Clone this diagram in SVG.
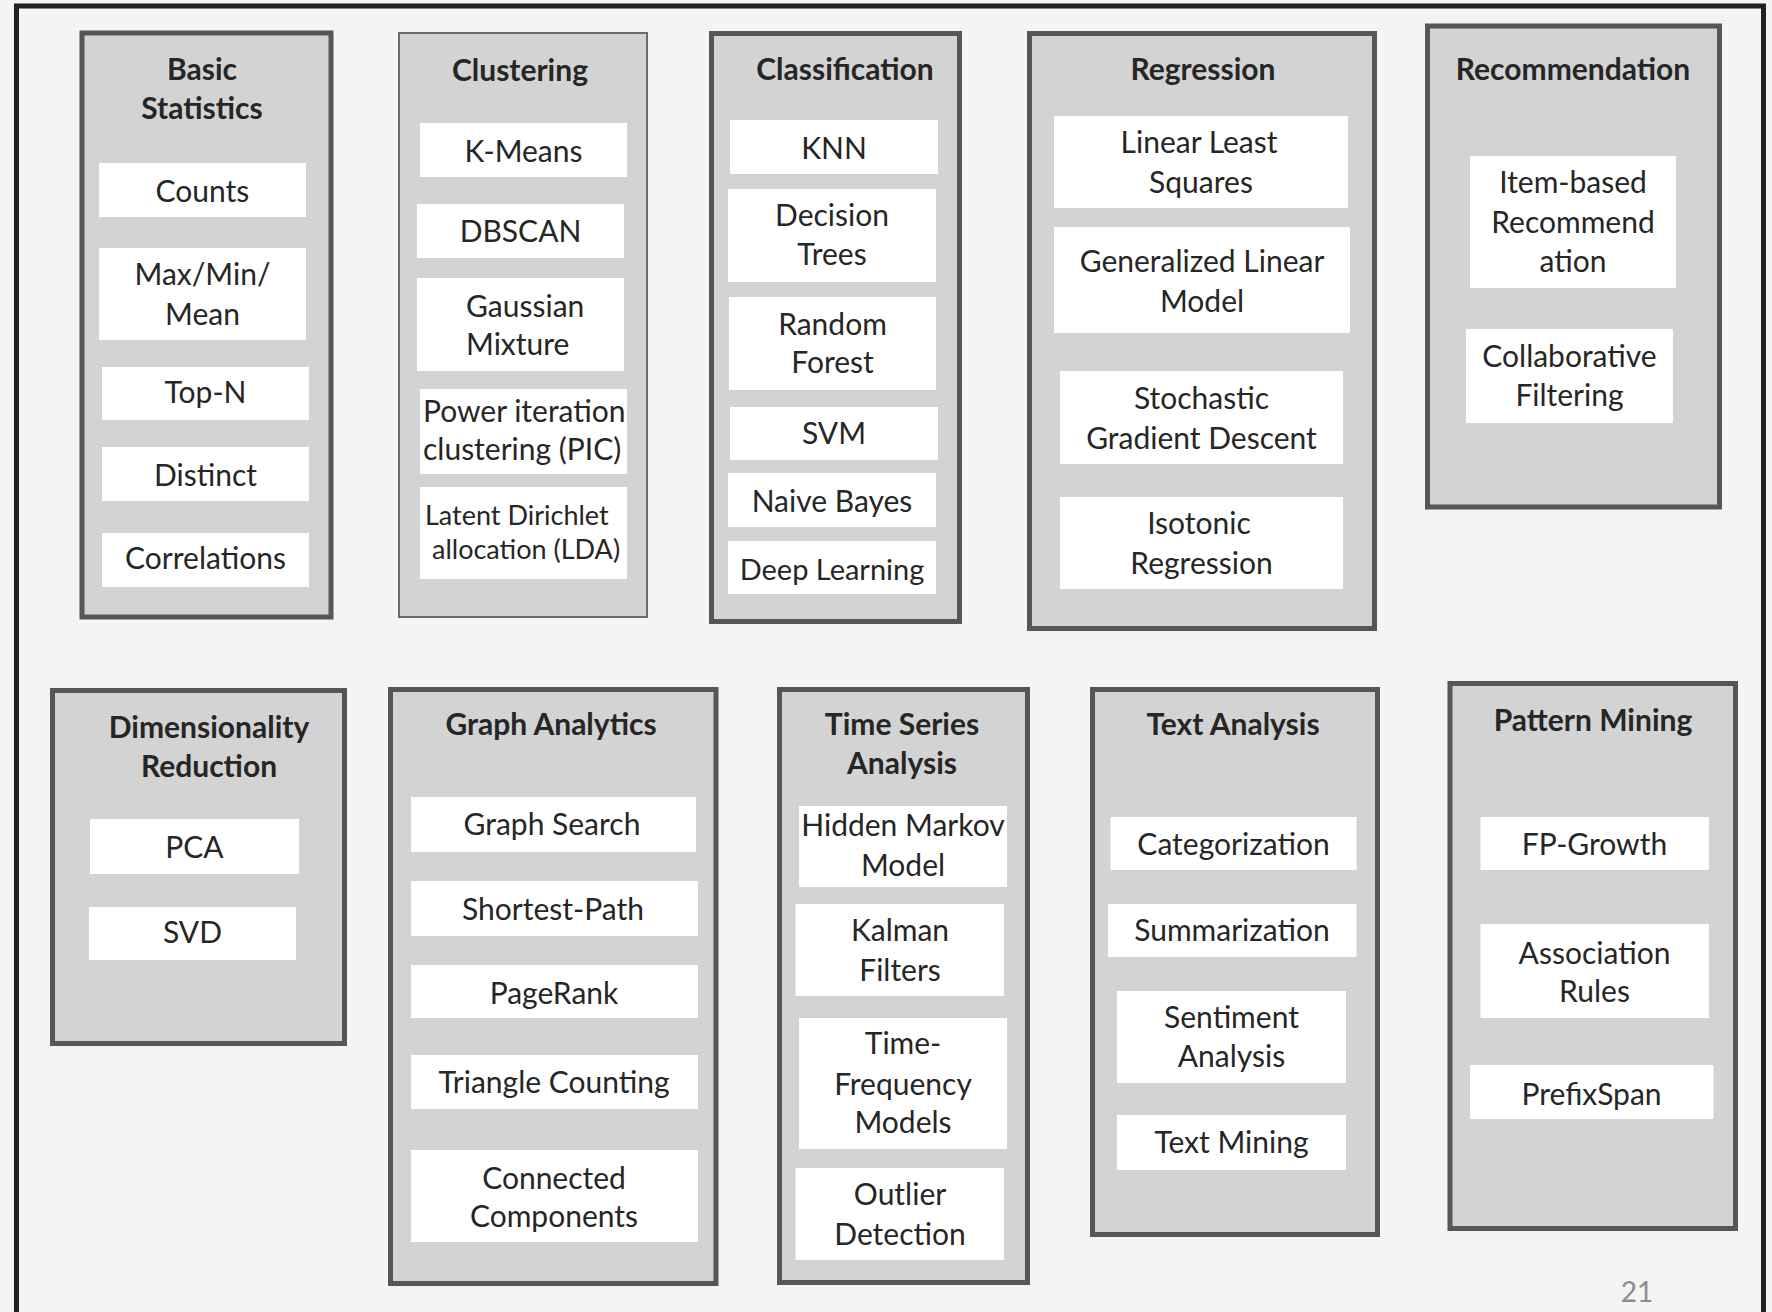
<svg xmlns="http://www.w3.org/2000/svg" width="1772" height="1312" viewBox="0 0 1772 1312">
<style>
.bg{fill:#f3f4f3}
.frame{fill:none;stroke:#222;stroke-width:5}
.box{fill:#d3d3d3;stroke:#565656;stroke-width:5}
.thin{stroke:#6a6a6a;stroke-width:2}
.item{fill:#fff}
text{font-family:Lato,"Liberation Sans",sans-serif;font-size:30px;fill:#262626;text-anchor:middle}
.h{font-weight:bold}
.s{text-anchor:start}
.num{fill:#8c8c8c;font-size:28px}
</style>
<rect class="bg" x="0" y="0" width="1772" height="1312"/>
<rect class="frame" x="16.5" y="6" width="1747" height="1330"/>

<g id="basic-statistics">
<rect class="box" x="82" y="33" width="249" height="584"/>
<text class="h" x="202" y="80">Basic</text>
<text class="h" x="202" y="119">Statistics</text>
<rect class="item" x="99" y="163" width="207" height="54"/><text x="202.5" y="202">Counts</text>
<rect class="item" x="99" y="248" width="207" height="92"/><text x="202.5" y="285">Max/Min/</text><text x="202.5" y="325">Mean</text>
<rect class="item" x="102" y="367" width="207" height="53"/><text x="205.5" y="403">Top-N</text>
<rect class="item" x="102" y="447" width="207" height="54"/><text x="205.5" y="486">Distinct</text>
<rect class="item" x="102" y="533" width="207" height="54"/><text x="205.5" y="569">Correlations</text>
</g>

<g id="clustering">
<rect class="box thin" x="399" y="33" width="248" height="584"/>
<text class="h" x="520" y="81">Clustering</text>
<rect class="item" x="420" y="123" width="207" height="54"/><text x="523.5" y="162">K-Means</text>
<rect class="item" x="417" y="204" width="207" height="54"/><text x="520.5" y="242">DBSCAN</text>
<rect class="item" x="417" y="278" width="207" height="93"/><text class="s" x="466" y="317">Gaussian</text><text class="s" x="466" y="355">Mixture</text>
<rect class="item" x="420" y="389" width="207" height="85"/><text class="s" x="423" y="422">Power iteration</text><text class="s" x="423" y="460">clustering (PIC)</text>
<rect class="item" x="420" y="487" width="207" height="92"/><text class="s" x="425" y="525" style="font-size:27px">Latent Dirichlet</text><text class="s" x="432" y="559" style="font-size:27px">allocation (LDA)</text>
</g>

<g id="classification">
<rect class="box" x="711.5" y="33.5" width="248" height="588"/>
<text class="h" x="845" y="80">Classification</text>
<rect class="item" x="730" y="120" width="208" height="54"/><text x="834" y="159">KNN</text>
<rect class="item" x="728" y="189" width="208" height="93"/><text x="832" y="226">Decision</text><text x="832" y="265">Trees</text>
<rect class="item" x="729" y="297" width="207" height="93"/><text x="832.5" y="335">Random</text><text x="832.5" y="373">Forest</text>
<rect class="item" x="730" y="407" width="208" height="53"/><text x="834" y="444">SVM</text>
<rect class="item" x="728" y="473" width="208" height="54"/><text x="832" y="512">Naive Bayes</text>
<rect class="item" x="728" y="541" width="208" height="53"/><text x="832" y="580" style="font-size:29px">Deep Learning</text>
</g>

<g id="regression">
<rect class="box" x="1029.5" y="33.5" width="345" height="595"/>
<text class="h" x="1203" y="80">Regression</text>
<rect class="item" x="1054" y="116" width="294" height="92"/><text x="1199" y="153">Linear Least</text><text x="1201" y="193">Squares</text>
<rect class="item" x="1054" y="227" width="296" height="106"/><text x="1202" y="272">Generalized Linear</text><text x="1202" y="312">Model</text>
<rect class="item" x="1060" y="371" width="283" height="93"/><text x="1201.5" y="409">Stochastic</text><text x="1201.5" y="449">Gradient Descent</text>
<rect class="item" x="1060" y="497" width="283" height="92"/><text x="1199" y="534">Isotonic</text><text x="1201.5" y="574">Regression</text>
</g>

<g id="recommendation">
<rect class="box" x="1427.5" y="26" width="292" height="481"/>
<text class="h" x="1573" y="80">Recommendation</text>
<rect class="item" x="1470" y="156" width="206" height="132"/><text x="1573" y="193">Item-based</text><text x="1573" y="233">Recommend</text><text x="1573" y="272">ation</text>
<rect class="item" x="1466" y="329" width="207" height="94"/><text x="1569.5" y="367">Collaborative</text><text x="1569.5" y="406">Filtering</text>
</g>

<g id="dimensionality-reduction">
<rect class="box" x="52.5" y="690.5" width="292" height="353"/>
<text class="h" x="209" y="738">Dimensionality</text>
<text class="h" x="209" y="777">Reduction</text>
<rect class="item" x="90" y="819" width="209" height="55"/><text x="194.5" y="858">PCA</text>
<rect class="item" x="89" y="907" width="207" height="53"/><text x="192.5" y="943">SVD</text>
</g>

<g id="graph-analytics">
<rect class="box" x="390.5" y="689.5" width="325.5" height="594"/>
<text class="h" x="551" y="735">Graph Analytics</text>
<rect class="item" x="411" y="797" width="285" height="55"/><text x="552" y="835">Graph Search</text>
<rect class="item" x="411" y="881" width="287" height="55"/><text x="553" y="920">Shortest-Path</text>
<rect class="item" x="411" y="965" width="287" height="53"/><text x="554" y="1004">PageRank</text>
<rect class="item" x="411" y="1055" width="287" height="54"/><text x="554" y="1093">Triangle Counting</text>
<rect class="item" x="411" y="1150" width="287" height="92"/><text x="554" y="1189">Connected</text><text x="554" y="1227">Components</text>
</g>

<g id="time-series-analysis">
<rect class="box" x="779.5" y="689.5" width="248" height="593"/>
<text class="h" x="902" y="735">Time Series</text>
<text class="h" x="902" y="774">Analysis</text>
<rect class="item" x="799" y="806" width="208" height="81"/><text x="903" y="836">Hidden Markov</text><text x="903" y="876">Model</text>
<rect class="item" x="795.5" y="904" width="208.5" height="92"/><text x="900" y="941">Kalman</text><text x="900" y="981">Filters</text>
<rect class="item" x="799" y="1018" width="208" height="131"/><text x="903" y="1054">Time-</text><text x="903" y="1095">Frequency</text><text x="903" y="1133">Models</text>
<rect class="item" x="795.5" y="1168" width="208.5" height="92"/><text x="900" y="1205">Outlier</text><text x="900" y="1245">Detection</text>
</g>

<g id="text-analysis">
<rect class="box" x="1092.5" y="689.5" width="285" height="545"/>
<text class="h" x="1233" y="735">Text Analysis</text>
<rect class="item" x="1110.5" y="817" width="246" height="53"/><text x="1233.5" y="855">Categorization</text>
<rect class="item" x="1108" y="904" width="248.5" height="53"/><text x="1232" y="941">Summarization</text>
<rect class="item" x="1117" y="991" width="229" height="92"/><text x="1231.5" y="1028">Sentiment</text><text x="1231.5" y="1067">Analysis</text>
<rect class="item" x="1117" y="1115" width="229" height="55"/><text x="1231.5" y="1153">Text Mining</text>
</g>

<g id="pattern-mining">
<rect class="box" x="1450" y="683.5" width="285.5" height="545"/>
<text class="h" x="1593" y="731">Pattern Mining</text>
<rect class="item" x="1480.5" y="817" width="228.5" height="53"/><text x="1594.5" y="855">FP-Growth</text>
<rect class="item" x="1480.5" y="924" width="228.5" height="94"/><text x="1594.5" y="964">Association</text><text x="1594.5" y="1002">Rules</text>
<rect class="item" x="1470" y="1065" width="243.5" height="54"/><text x="1591.5" y="1105">PrefixSpan</text>
</g>

<g id="connectors"></g>

<text class="num" x="1637" y="1302">21</text>
</svg>
